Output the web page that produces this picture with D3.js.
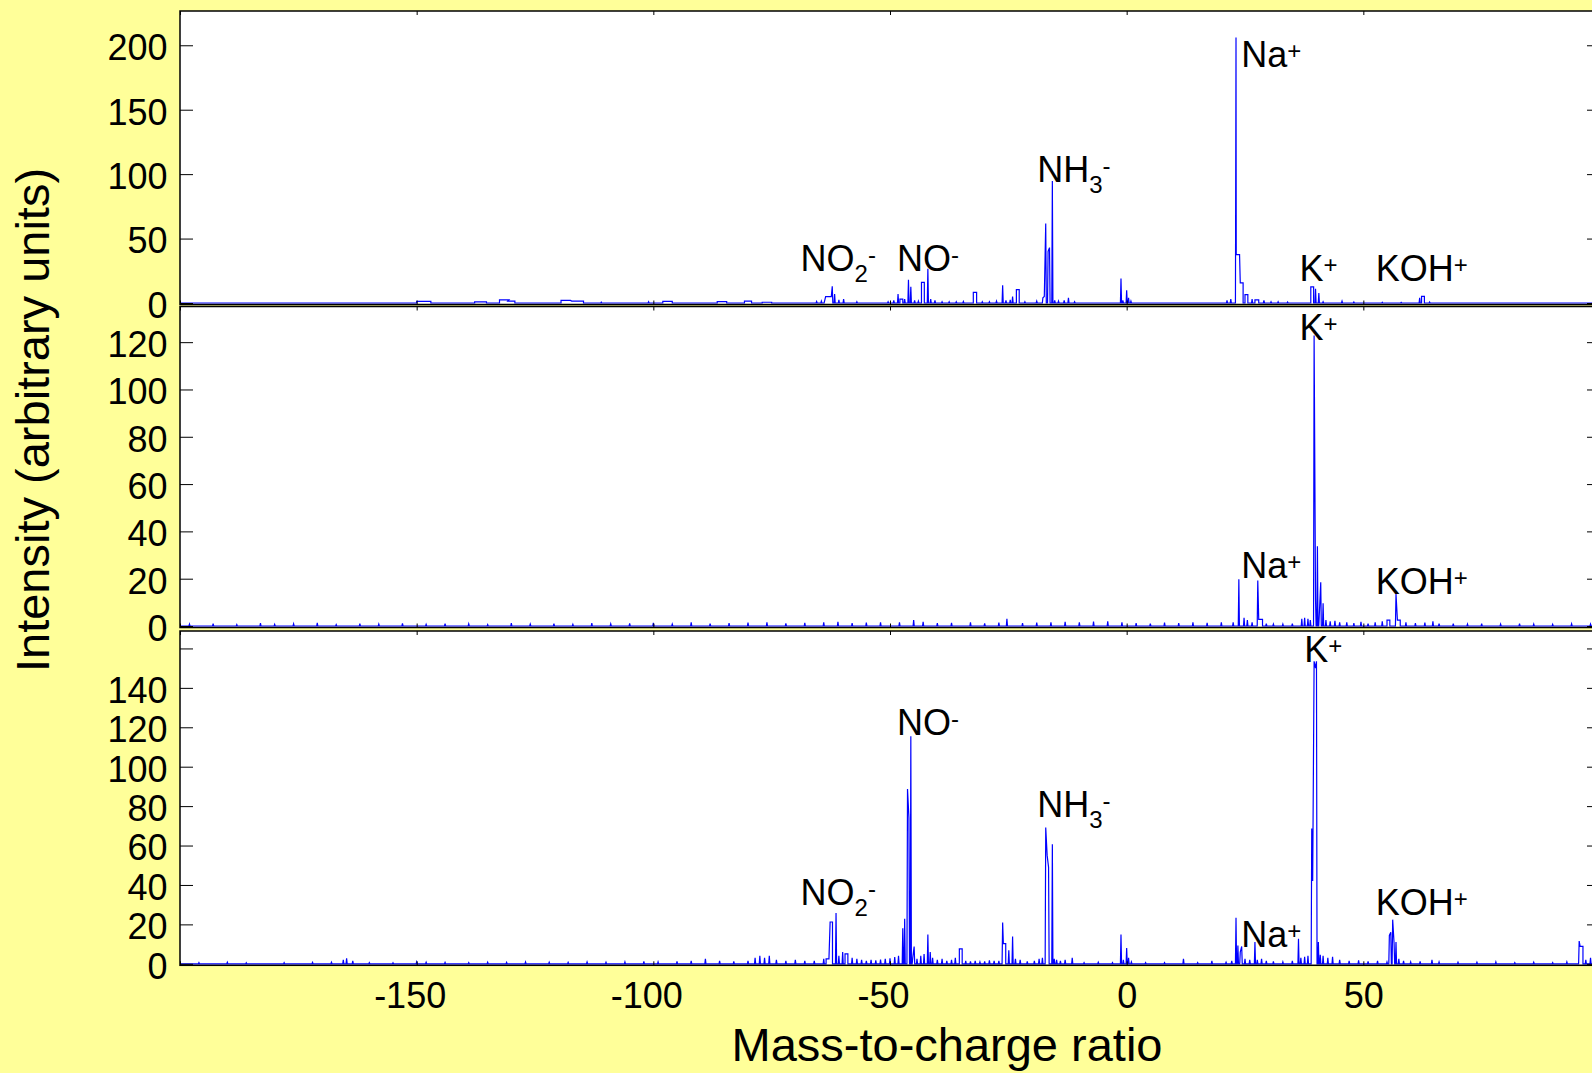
<!DOCTYPE html>
<html>
<head>
<meta charset="utf-8">
<script src="https://cdn.jsdelivr.net/npm/d3@7"></script>
<style>
  html, body { margin: 0; padding: 0; background: #ffff99; overflow: hidden; }
  svg { display: block; font-family: "Liberation Sans", Arial, sans-serif; }
</style>
</head>
<body>
<script>
// m/z axis
var mzDomain = [-200, 100];
var mzTicks = [-200, -150, -100, -50, 0, 50, 100];
var mzLabels = [-150, -100, -50, 0, 50];

// peaks: [m/z, intensity, flat-top width (optional)]
var peaksTop = [
  [-148.5, 1.2, 3], [-136.5, 0.8, 2.5], [-131.5, 2.5, 2], [-130, 1.5, 1.5], [-118.5, 2, 2],
  [-116, 1.5, 2.5], [-111, 0.7], [-101, 1], [-97, 1.2, 2], [-85.5, 1, 2], [-80, 1.5, 1.5],
  [-76, 0.6, 2], [-65.5, 1.2], [-64.5, 1.5], [-63.8, 1.8], [-63, 5, 1.2], [-62.2, 13],
  [-61.7, 7], [-60.8, 2.5], [-59.8, 3], [-57, 1], [-50.4, 1], [-49.2, 2], [-48.3, 7],
  [-47.6, 3, 0.6], [-46.9, 3], [-46.1, 18], [-45.6, 12.5], [-44.8, 2], [-44, 1.5],
  [-43.05, 16, 0.6], [-42.0, 26.5], [-41.4, 3], [-40.5, 2], [-39, 1], [-37.5, 1], [-36, 1],
  [-34.5, 1.2], [-32.05, 8.3, 0.7], [-30.5, 1], [-29, 1], [-27.5, 1.5], [-26.2, 13.8],
  [-25.5, 2], [-24.6, 2.5], [-24.1, 5], [-23.0, 10.4, 0.6], [-21.5, 1], [-19, 1.5],
  [-17.7, 4], [-17.4, 5], [-17.1, 61.7], [-16.6, 40], [-16.3, 43], [-15.7, 94.7],
  [-15.2, 2], [-14.4, 1.5], [-13.2, 2], [-12.3, 4], [-11, 1], [-1.2, 19], [-0.8, 2],
  [0, 9.9], [0.4, 4], [0.9, 1.5], [21.2, 2], [22, 3], [23.1, 206], [23.5, 37.6, 0.7],
  [24.3, 15.6, 0.6], [25.3, 6.5, 0.6], [26.5, 3], [27.5, 2.5, 0.8], [29, 2], [30.5, 1],
  [32, 1], [34, 0.8], [39.2, 12.5, 0.6], [39.9, 11], [40.6, 7.8], [41.5, 1], [45.5, 1.5],
  [48, 0.8], [54, 0.6], [58, 0.5], [61.9, 4], [62.6, 5.2, 0.6], [64, 0.8]
];
var peaksMid = [
  [-198, 0.8], [-193, 1], [-188, 0.6], [-183, 1.2], [-180, 0.7], [-176, 0.9], [-171, 1.3],
  [-167, 0.6], [-162, 1], [-158, 0.8], [-153, 1.1], [-148, 0.7], [-144, 1], [-139, 0.9],
  [-135, 0.6], [-130, 1.2], [-126, 0.8], [-121, 1], [-117, 0.7], [-113, 1.2], [-109, 0.9],
  [-105, 1.1], [-100, 1.3], [-96, 0.8], [-92, 1.5], [-88, 1], [-84, 1.2], [-80, 1.4],
  [-76, 1.6], [-72, 1.1], [-68, 1.3], [-64, 1.5], [-61, 1.8], [-58, 1.2], [-55, 1.4],
  [-52, 1.6], [-48, 1.5], [-45, 2.5], [-43, 1.8], [-40, 1.2], [-37, 1.3], [-33, 1.5],
  [-30, 1.1], [-27, 1.4], [-25.3, 3], [-22, 1.2], [-19, 1.4], [-16, 1.6], [-13, 1.8],
  [-10, 1.5], [-7, 1.9], [-4, 2], [-1, 1.5], [2, 1.2], [5, 1], [8, 1.4], [11, 1.2],
  [14, 1.5], [17, 1.3], [20, 1.6], [22.5, 1.5], [23.7, 19.8], [24.8, 3.5], [25.5, 2.5],
  [26.5, 1.5], [27.7, 19.2], [28.3, 2.8, 0.8], [29.5, 1], [31, 0.8], [33, 0.8], [35, 1],
  [37, 3], [37.6, 3.5], [38.3, 3], [38.8, 2.5], [39.6, 122.8], [39.9, 11.3], [40.3, 33.7],
  [40.7, 5], [41.0, 18.5], [41.5, 9.6], [42.1, 2.5], [43, 2], [44, 2.2], [45, 1.5],
  [46.5, 1.5], [48, 1.2], [49.5, 1.8], [51, 1], [52.5, 1.5], [54, 2], [55.3, 2.5, 0.6],
  [56.9, 13.6], [57.5, 2.5, 0.6], [59, 1.5], [61, 1.2], [63, 1.4], [64.7, 2], [66, 1],
  [69, 1], [72, 0.8], [75, 1], [79, 0.8], [83, 1], [86, 0.8], [90, 0.7], [94, 0.9], [98, 0.8]
];
var peaksBottom = [
  [-196, 0.6], [-190, 0.8], [-186, 0.5], [-178, 0.6], [-172, 0.7], [-168, 0.8], [-165.5, 2],
  [-164.8, 2.8], [-163.5, 1.5], [-160, 0.6], [-155, 0.5], [-150, 1], [-148, 0.8], [-144, 0.7],
  [-139, 0.6], [-135, 0.8], [-131, 0.7], [-127, 0.9], [-122, 0.8], [-118, 0.7], [-114, 0.9],
  [-110, 0.8], [-106, 1], [-102, 1.2], [-99, 1], [-95, 1.2], [-92, 1.5], [-89, 2.5],
  [-86, 1.5], [-83, 1.2], [-80, 1.5], [-78.5, 3], [-77.5, 4], [-76.5, 3], [-75.5, 4],
  [-74, 2], [-72, 1.5], [-70, 2], [-68, 1.5], [-66, 1.5], [-64, 2.5], [-63.2, 2.5, 0.6],
  [-62.4, 21.2, 0.5], [-61.4, 25.8], [-60.8, 4], [-60, 6], [-59.2, 5, 0.6], [-58, 3],
  [-57, 2.5], [-56, 2], [-55, 1.5], [-54, 2], [-53, 1.8], [-52, 2.2], [-51, 2.5],
  [-50, 2.8], [-49, 3.4], [-48.2, 4], [-47.3, 18], [-46.9, 22.9], [-46.3, 88.7],
  [-46.0, 74], [-45.6, 115.4], [-45.2, 3], [-44.9, 8.8], [-44.3, 2.5], [-43.5, 4],
  [-42.8, 5], [-42.0, 14.9], [-41.5, 6], [-41, 3], [-40, 2], [-39, 2.5], [-38, 1.5],
  [-37, 2], [-36.2, 3], [-35.05, 7.6, 0.6], [-34, 1.5], [-33, 1.2], [-32, 1.5], [-31, 1],
  [-30, 1.2], [-29, 1.8], [-28, 1.5], [-27, 1.5], [-26.2, 20.9], [-25.8, 10.2, 0.5],
  [-24.9, 6.8], [-24.1, 13.9], [-23.5, 2.5], [-22.5, 2], [-21, 1.2], [-19.5, 1.5],
  [-18.5, 2.5], [-17.8, 3], [-17.1, 69.2], [-16.8, 55], [-16.5, 49], [-15.7, 60.7],
  [-15.3, 2.5], [-14.8, 2], [-14, 1.5], [-13, 2], [-11.5, 3], [-9, 0.6], [-6, 0.8],
  [-3, 0.6], [-1.2, 14.9], [-0.7, 2], [0, 8], [0.4, 3], [1, 1], [4, 0.6], [8, 0.6],
  [12, 2.5], [15, 0.6], [18, 1.5], [21, 0.8], [22.2, 1.5], [23.1, 23.4], [23.5, 9.3],
  [24.0, 6], [24.3, 8.8], [25, 2.5], [26, 2], [27.1, 11], [27.6, 2], [28.5, 2.5],
  [29.5, 1.5], [31, 1.2], [33, 1], [35, 1.5], [36.3, 12.7], [36.8, 3], [37.6, 3.5],
  [38.3, 4], [39.1, 68.7], [39.3, 42], [39.6, 153.5], [39.9, 150], [40.1, 153.5],
  [40.5, 11], [40.9, 4.6], [41.5, 4], [42.5, 3], [43.5, 3.5], [45, 2], [47, 1.5],
  [49, 1.8], [51, 1.2], [53, 1.5], [55, 1], [55.5, 14.4], [55.8, 16], [56.2, 22.4],
  [56.5, 10.2], [56.9, 11], [57.5, 2.5], [58.5, 1.5], [60, 1], [62, 1.2], [64.5, 2],
  [66, 1], [70, 0.8], [74, 0.8], [78, 1], [82, 0.6], [86, 0.8], [90, 0.6], [93, 1],
  [95.6, 11.5], [96.1, 8.8, 0.6], [97, 2], [98, 3], [99, 1]
];

// y ticks per panel
var ticksTop = [0, 50, 100, 150, 200];
var ticksMid = [0, 20, 40, 60, 80, 100, 120];
var ticksBottom = [0, 20, 40, 60, 80, 100, 120, 140, 160];
var hiddenBottom = [160];

// ion labels: [name, subscript, superscript, m/z, intensity]
var ionsTop = [
  ["NO", "2", "-", -68.9, 25.1], ["NO", "", "-", -48.5, 25.1], ["NH", "3", "-", -18.9, 93.6],
  ["Na", "", "+", 24.2, 183.1], ["K", "", "+", 36.5, 17.1], ["KOH", "", "+", 52.6, 17.1]
];
var ionsMid = [
  ["K", "", "+", 36.5, 121.1], ["Na", "", "+", 24.2, 20.2], ["KOH", "", "+", 52.6, 13.6]
];
var ionsBottom = [
  ["K", "", "+", 37.5, 152.9], ["Na", "", "+", 24.2, 8.4], ["KOH", "", "+", 52.6, 24.8],
  ["NO", "", "-", -48.5, 116.1], ["NH", "3", "-", -18.9, 74.6], ["NO", "2", "-", -68.9, 29.6]
];

var W = 1592, H = 1073;
var svg = d3.select("body").append("svg").attr("width", W).attr("height", H);
svg.append("rect").attr("width", W).attr("height", H).attr("fill", "#ffff99");

var x = d3.scaleLinear().domain(mzDomain).range([180, 1600]);

// turn the peak list into a stick trace
function trace(peaks) {
  var hw = 0.12, gap = 0.35;
  var s = peaks.slice().sort(function (a, b) { return a[0] - b[0]; });
  var pts = [[mzDomain[0], 0]];
  s.forEach(function (p, i) {
    var w = p[2] || 0, x0 = p[0] - w / 2, x1 = p[0] + w / 2;
    var prev = s[i - 1], next = s[i + 1];
    var joinPrev = prev && x0 - (prev[0] + (prev[2] || 0) / 2) < gap;
    var joinNext = next && (next[0] - (next[2] || 0) / 2) - x1 < gap;
    if (!joinPrev) pts.push([x0 - (w ? 0 : hw), 0]);
    pts.push([x0, p[1]]);
    if (w) pts.push([x1, p[1]]);
    if (!joinNext) pts.push([x1 + (w ? 0 : hw), 0]);
  });
  pts.push([mzDomain[1], 0]);
  return pts;
}

var panels = [
  { top: 11, zero: 303, peaks: peaksTop, ticks: ticksTop, hidden: [], ions: ionsTop },
  { top: 306.5, zero: 626, peaks: peaksMid, ticks: ticksMid, hidden: [], ions: ionsMid },
  { top: 631, zero: 963.8, peaks: peaksBottom, ticks: ticksBottom, hidden: hiddenBottom, ions: ionsBottom, last: true }
];

panels.forEach(function (p, k) {
  var ymax = 1.1 * d3.max(p.peaks, function (d) { return d[1]; });
  var y = d3.scaleLinear().domain([0, ymax]).range([p.zero, p.top]);
  var bottom = p.zero + 1.5;
  var g = svg.append("g");

  g.append("rect")
    .attr("x", 180).attr("y", p.top)
    .attr("width", 1420).attr("height", bottom - p.top)
    .attr("fill", "white");

  g.append("clipPath").attr("id", "clip" + k)
    .append("rect")
    .attr("x", 180).attr("y", p.top)
    .attr("width", 1420).attr("height", bottom - p.top);

  g.append("path")
    .datum(trace(p.peaks))
    .attr("clip-path", "url(#clip" + k + ")")
    .attr("fill", "none")
    .attr("stroke", "#0000ff")
    .attr("stroke-width", 1.2)
    .attr("stroke-linejoin", "miter")
    .attr("d", d3.line().x(function (d) { return x(d[0]); }).y(function (d) { return y(d[1]); }));

  // y axes (inward ticks both sides)
  var left = g.append("g")
    .attr("transform", "translate(180,0)")
    .call(d3.axisLeft(y).tickValues(p.ticks).tickSizeInner(-13).tickSizeOuter(0).tickPadding(12.5)
      .tickFormat(function (d) { return p.hidden.indexOf(d) >= 0 ? "" : d; }));
  left.selectAll("text").attr("dy", "0.4em").style("font-size", "36px").attr("fill", "black");
  g.append("g")
    .attr("transform", "translate(1600,0)")
    .call(d3.axisRight(y).tickValues(p.ticks).tickSizeInner(-13).tickSizeOuter(0).tickFormat(""));

  // x axes (short inward ticks)
  g.append("g")
    .attr("transform", "translate(0," + p.top + ")")
    .call(d3.axisTop(x).tickValues(mzTicks).tickSizeInner(-4).tickSizeOuter(0).tickFormat(""));
  var bot = g.append("g")
    .attr("transform", "translate(0," + bottom + ")")
    .call(d3.axisBottom(x).tickValues(mzTicks).tickSizeInner(-4).tickSizeOuter(0)
      .tickFormat(function (d) { return p.last && mzLabels.indexOf(d) >= 0 ? String(d) : ""; }));
  bot.selectAll("text")
    .attr("y", 42.7).attr("dy", 0)
    .attr("dx", function (d) { return d < 0 ? -7 : 0; })
    .style("font-size", "36px").attr("fill", "black");

  g.selectAll(".domain").remove();
  g.selectAll(".tick line").attr("stroke", "black").attr("stroke-width", 1);

  g.append("rect")
    .attr("x", 180).attr("y", p.top)
    .attr("width", 1420).attr("height", bottom - p.top)
    .attr("fill", "none").attr("stroke", "black").attr("stroke-width", 1.5);

  // ion labels
  p.ions.forEach(function (d) {
    var t = g.append("text")
      .attr("x", x(d[3])).attr("y", y(d[4]))
      .style("font-size", "36px").attr("fill", "black");
    t.append("tspan").text(d[0]);
    if (d[1]) t.append("tspan").attr("dy", 11).style("font-size", "24px").text(d[1]);
    t.append("tspan").attr("dy", d[1] ? -19 : -8).style("font-size", "24px").text(d[2]);
  });
});

svg.append("text")
  .attr("transform", "translate(49,420) rotate(-90)")
  .attr("text-anchor", "middle")
  .style("font-size", "47px")
  .text("Intensity (arbitrary units)");

svg.append("text")
  .attr("x", 947).attr("y", 1061)
  .attr("text-anchor", "middle")
  .style("font-size", "47px")
  .text("Mass-to-charge ratio");
</script>
</body>
</html>
